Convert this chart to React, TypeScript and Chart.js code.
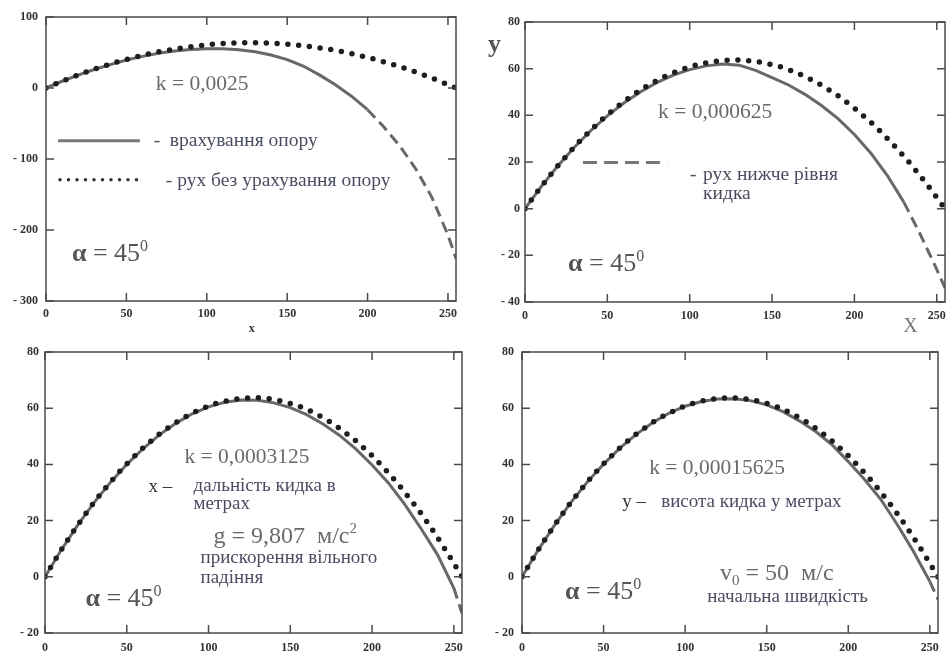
import React, { useEffect, useRef } from "react";
import { Chart, registerables } from "chart.js";

Chart.register(...registerables);

// ---------- data ----------
const X_TICKS = [0, 50, 100, 150, 200, 250];
const X_MAX = 255;
const Y_TICKS_1 = [-300, -200, -100, 0, 100];
const Y_TICKS_2 = [-40, -20, 0, 20, 40, 60, 80];
const Y_TICKS_34 = [-20, 0, 20, 40, 60, 80];

// trajectory without air resistance (dotted)
const X_FREE = [0, 5, 10, 15, 20, 25, 30, 35, 40, 45, 50, 55, 60, 65, 70, 75, 80, 85, 90, 95, 100, 105, 110, 115, 120, 125, 130, 135, 140, 145, 150, 155, 160, 165, 170, 175, 180, 185, 190, 195, 200, 205, 210, 215, 220, 225, 230, 235, 240, 245, 250, 255];
const Y_FREE = [0, 4.9, 9.6, 14.1, 18.4, 22.5, 26.5, 30.2, 33.7, 37.1, 40.2, 43.1, 45.9, 48.4, 50.8, 52.9, 54.9, 56.7, 58.2, 59.6, 60.8, 61.8, 62.5, 63.1, 63.5, 63.7, 63.7, 63.5, 63.1, 62.5, 61.7, 60.8, 59.6, 58.2, 56.6, 54.9, 52.9, 50.7, 48.4, 45.8, 43.1, 40.1, 37.0, 33.7, 30.1, 26.4, 22.5, 18.4, 14.0, 9.5, 4.8, 0];

// trajectories with air resistance (solid, dashed below launch level)
const X_DRAG = [0, 10, 20, 30, 40, 50, 60, 70, 80, 90, 100, 110, 120, 130, 140, 150, 160, 170, 180, 190, 200, 210, 220, 230, 240, 250, 255];
const Y_DRAG_1 = [0, 9.5, 18, 26, 33, 39.5, 44.5, 49, 52, 54.2, 55.3, 55.3, 54, 51, 46.5, 40, 31, 18.5, 4.5, -11.5, -30.5, -54.5, -81.5, -114, -154, -207, -240];
const Y_DRAG_2 = [0, 9.6, 18.4, 26.3, 33.5, 39.8, 45.3, 50.0, 54.0, 57.2, 59.6, 61.2, 62.0, 61.5, 59.3, 56.2, 53.0, 49.0, 44.2, 38.6, 31.8, 23.8, 14.2, 2.8, -11, -26, -34];
const Y_DRAG_3 = [0, 9.6, 18.4, 26.4, 33.6, 40.0, 45.6, 50.5, 54.6, 58.0, 60.5, 62.1, 62.9, 62.8, 61.9, 60.2, 57.7, 54.4, 50.4, 45.5, 39.8, 33.4, 25.8, 17.1, 7.9, -4, -13];
const Y_DRAG_4 = [0, 9.6, 18.4, 26.5, 33.7, 40.1, 45.8, 50.7, 54.8, 58.2, 60.7, 62.4, 63.3, 63.4, 62.7, 61.2, 58.8, 55.5, 51.7, 47.0, 41.0, 34.6, 27.5, 18.6, 9.0, -1.7, -8];

// ---------- styles ----------
const SERIF = '"Liberation Serif", "DejaVu Serif", serif';
const f = (size: number, weight = "normal") => `${weight} ${size}px ${SERIF}`;
const C_K = "#6a6a6a";
const C_TXT = "#4a4d62";
const C_DARK = "#333333";
const C_ALPHA = "#555555";

type Part = { t: string; font: string; color: string; dy?: number };
type Note =
  | { kind: "text"; x: number; y: number; parts: Part[]; align?: "left" | "center"; baseline?: CanvasTextBaseline }
  | { kind: "line"; x1: number; x2: number; y: number; color: string; width: number; dash?: number[]; cap?: CanvasLineCap };

const ALPHA: Part[] = [
  { t: "α", font: f(26, "bold"), color: C_ALPHA },
  { t: " = 45", font: f(26), color: C_ALPHA },
  { t: "0", font: f(16), color: C_ALPHA, dy: -10 },
];
const txt = (x: number, y: number, t: string, size = 19.5, color = C_TXT): Note => ({
  kind: "text", x, y, parts: [{ t, font: f(size), color }],
});

const NOTES_1: Note[] = [
  txt(68.3, -3.4, "k = 0,0025", 21.5, C_K),
  { kind: "line", x1: 7.5, x2: 58.4, y: -74.2, color: "#777", width: 3 },
  txt(67, -82.2, "-"),
  txt(77, -82.2, "врахування опору"),
  { kind: "line", x1: 8.7, x2: 56.5, y: -129.4, color: "#333", width: 3.5, dash: [0, 8.5], cap: "round" },
  txt(74.5, -138.6, "- рух без урахування опору"),
  { kind: "text", x: 16.1, y: -244.2, parts: ALPHA },
  { kind: "text", x: 128, y: -339, align: "center", baseline: "middle", parts: [{ t: "x", font: f(12, "bold"), color: C_DARK }] },
];
const NOTES_2: Note[] = [
  { kind: "text", x: -22.5, y: 67, parts: [{ t: "y", font: f(26, "bold"), color: C_ALPHA }] },
  txt(80.8, 39, "k = 0,000625", 21.5, C_K),
  { kind: "line", x1: 35.2, x2: 86.3, y: 19.8, color: "#777", width: 3, dash: [14, 7] },
  txt(100.2, 12.4, "-"),
  txt(108.1, 12.4, "рух нижче рівня"),
  txt(108.1, 4.3, "кидка"),
  { kind: "text", x: 26.1, y: -26.7, parts: ALPHA },
  txt(229.6, -52.9, "X", 20, "#777"),
];
const NOTES_3: Note[] = [
  txt(85.3, 40.5, "k = 0,0003125", 21.5, C_K),
  txt(63.3, 30.2, "x –", 19, C_DARK),
  txt(90.8, 30.6, "дальність кидка в", 19),
  txt(90.8, 24, "метрах", 19),
  {
    kind: "text", x: 103, y: 12.1, parts: [
      { t: "g = 9,807  м/с", font: f(24), color: C_K },
      { t: "2", font: f(15), color: C_K, dy: -10 },
    ],
  },
  txt(95.1, 4.8, "прискорення вільного", 19),
  txt(95.1, -2.3, "падіння", 19),
  { kind: "text", x: 24.7, y: -10.4, parts: ALPHA },
];
const NOTES_4: Note[] = [
  txt(78, 36.5, "k = 0,00015625", 21.5, C_K),
  txt(61.4, 24.7, "y –", 19, C_DARK),
  txt(85.3, 24.7, "висота кидка у метрах", 19),
  {
    kind: "text", x: 121.4, y: -1.2, parts: [
      { t: "v", font: f(24), color: C_K },
      { t: "0", font: f(15), color: C_K, dy: 5 },
      { t: " = 50  м/с", font: f(24), color: C_K },
    ],
  },
  txt(113.5, -8.9, "начальна швидкість", 19),
  { kind: "text", x: 26.4, y: -8, parts: ALPHA },
];

type Panel = {
  left: number; top: number; width: number; height: number;
  area: { l: number; t: number; r: number; b: number };
  yMin: number; yMax: number; yTicks: number[]; yDrag: number[];
  dashFrom: number; xPad: number; yPad: number; notes: Note[];
};

const PANELS: Panel[] = [
  { left: 0, top: 0, width: 474, height: 340, area: { l: 46, t: 17, r: 456, b: 301 }, yMin: -300, yMax: 100, yTicks: Y_TICKS_1, yDrag: Y_DRAG_1, dashFrom: 200, xPad: 6, yPad: 8, notes: NOTES_1 },
  { left: 474, top: 0, width: 473, height: 340, area: { l: 525, t: 22, r: 945, b: 302 }, yMin: -40, yMax: 80, yTicks: Y_TICKS_2, yDrag: Y_DRAG_2, dashFrom: 230, xPad: 7, yPad: 5, notes: NOTES_2 },
  { left: 0, top: 340, width: 474, height: 319, area: { l: 45, t: 352, r: 462, b: 633 }, yMin: -20, yMax: 80, yTicks: Y_TICKS_34, yDrag: Y_DRAG_3, dashFrom: 250, xPad: 8, yPad: 6, notes: NOTES_3 },
  { left: 474, top: 340, width: 473, height: 319, area: { l: 522, t: 352, r: 938, b: 633 }, yMin: -20, yMax: 80, yTicks: Y_TICKS_34, yDrag: Y_DRAG_4, dashFrom: 250, xPad: 8, yPad: 8, notes: NOTES_4 },
];

const tickLabel = (v: number | string) => {
  const n = Number(v);
  return n < 0 ? "- " + Math.abs(n) : String(n);
};

function makeFramePlugin(p: Panel) {
  return {
    id: "frame",
    afterDatasetsDraw(chart: any) {
      const { ctx, chartArea: a, scales } = chart;
      const xs = scales.x, ys = scales.y;
      ctx.save();
      ctx.strokeStyle = "#4a4a4a";
      ctx.lineWidth = 1.5;
      ctx.strokeRect(a.left, a.top, a.right - a.left, a.bottom - a.top);
      const L = 8;
      ctx.beginPath();
      for (const v of X_TICKS) {
        const px = xs.getPixelForValue(v);
        ctx.moveTo(px, a.bottom); ctx.lineTo(px, a.bottom - L);
        ctx.moveTo(px, a.top); ctx.lineTo(px, a.top + L);
      }
      for (const v of p.yTicks) {
        const py = ys.getPixelForValue(v);
        ctx.moveTo(a.left, py); ctx.lineTo(a.left + L, py);
        ctx.moveTo(a.right, py); ctx.lineTo(a.right - L, py);
      }
      ctx.stroke();
      ctx.restore();
    },
  };
}

function makeNotesPlugin(p: Panel) {
  return {
    id: "notes",
    afterDraw(chart: any) {
      const { ctx, scales } = chart;
      const xs = scales.x, ys = scales.y;
      ctx.save();
      for (const n of p.notes) {
        if (n.kind === "line") {
          ctx.beginPath();
          ctx.strokeStyle = n.color;
          ctx.lineWidth = n.width;
          ctx.setLineDash(n.dash || []);
          ctx.lineCap = n.cap || "butt";
          const py = ys.getPixelForValue(n.y);
          ctx.moveTo(xs.getPixelForValue(n.x1), py);
          ctx.lineTo(xs.getPixelForValue(n.x2), py);
          ctx.stroke();
          ctx.setLineDash([]);
        } else {
          ctx.textBaseline = n.baseline || "alphabetic";
          ctx.textAlign = "left";
          let cx = xs.getPixelForValue(n.x);
          const py = ys.getPixelForValue(n.y);
          if (n.align === "center") {
            let w = 0;
            for (const part of n.parts) { ctx.font = part.font; w += ctx.measureText(part.t).width; }
            cx -= w / 2;
          }
          for (const part of n.parts) {
            ctx.font = part.font;
            ctx.fillStyle = part.color;
            ctx.fillText(part.t, cx, py + (part.dy || 0));
            cx += ctx.measureText(part.t).width;
          }
        }
      }
      ctx.restore();
    },
  };
}

function PanelChart({ p }: { p: Panel }) {
  const ref = useRef<HTMLCanvasElement | null>(null);
  useEffect(() => {
    if (!ref.current) return;
    const a = p.area;
    const yWidth = a.l - p.left;
    const xHeight = p.top + p.height - a.b;
    const tickFont = { family: SERIF, size: 12, weight: "bold" as const };
    const chart = new Chart(ref.current, {
      type: "scatter",
      data: {
        datasets: [
          {
            data: X_FREE.map((x, i) => ({ x, y: Y_FREE[i] })),
            showLine: true,
            borderColor: "#1e1e1e",
            borderWidth: 5.5,
            borderDash: [0, 10.8],
            borderCapStyle: "round",
            pointRadius: 0,
            fill: false,
          },
          {
            data: X_DRAG.map((x, i) => ({ x, y: p.yDrag[i] })),
            showLine: true,
            borderColor: "#686868",
            borderWidth: 3,
            pointRadius: 0,
            fill: false,
            segment: {
              borderDash: (ctx: any) => (ctx.p0.parsed.x >= p.dashFrom ? [11, 6] : undefined),
            },
          },
        ],
      } as any,
      options: {
        responsive: false,
        animation: false,
        events: [],
        layout: { padding: { left: 0, top: a.t - p.top, right: p.left + p.width - a.r, bottom: 0 } },
        plugins: { legend: { display: false }, tooltip: { enabled: false } },
        scales: {
          x: {
            type: "linear",
            min: 0,
            max: X_MAX,
            grid: { display: false, drawTicks: false },
            border: { display: false },
            ticks: { padding: p.xPad, font: tickFont, color: "#333", autoSkip: false, maxRotation: 0, callback: tickLabel },
            afterBuildTicks: (s: any) => { s.ticks = X_TICKS.map((v) => ({ value: v })); },
            afterFit: (s: any) => { s.height = xHeight; s.paddingLeft = 0; s.paddingRight = 0; },
          },
          y: {
            type: "linear",
            min: p.yMin,
            max: p.yMax,
            grid: { display: false, drawTicks: false },
            border: { display: false },
            ticks: { padding: p.yPad, font: tickFont, color: "#333", autoSkip: false, callback: tickLabel },
            afterBuildTicks: (s: any) => { s.ticks = p.yTicks.map((v) => ({ value: v })); },
            afterFit: (s: any) => { s.width = yWidth; s.paddingTop = 0; s.paddingBottom = 0; },
          },
        },
      } as any,
      plugins: [makeFramePlugin(p), makeNotesPlugin(p)],
    });
    return () => chart.destroy();
  }, [p]);
  return (
    <canvas
      ref={ref}
      width={p.width}
      height={p.height}
      style={{ position: "absolute", left: p.left, top: p.top, width: p.width, height: p.height }}
    />
  );
}

export default function App() {
  return (
    <div style={{ position: "fixed", left: 0, top: 0, width: 947, height: 659, background: "#fff", overflow: "hidden" }}>
      {PANELS.map((p, i) => (
        <PanelChart key={i} p={p} />
      ))}
    </div>
  );
}
